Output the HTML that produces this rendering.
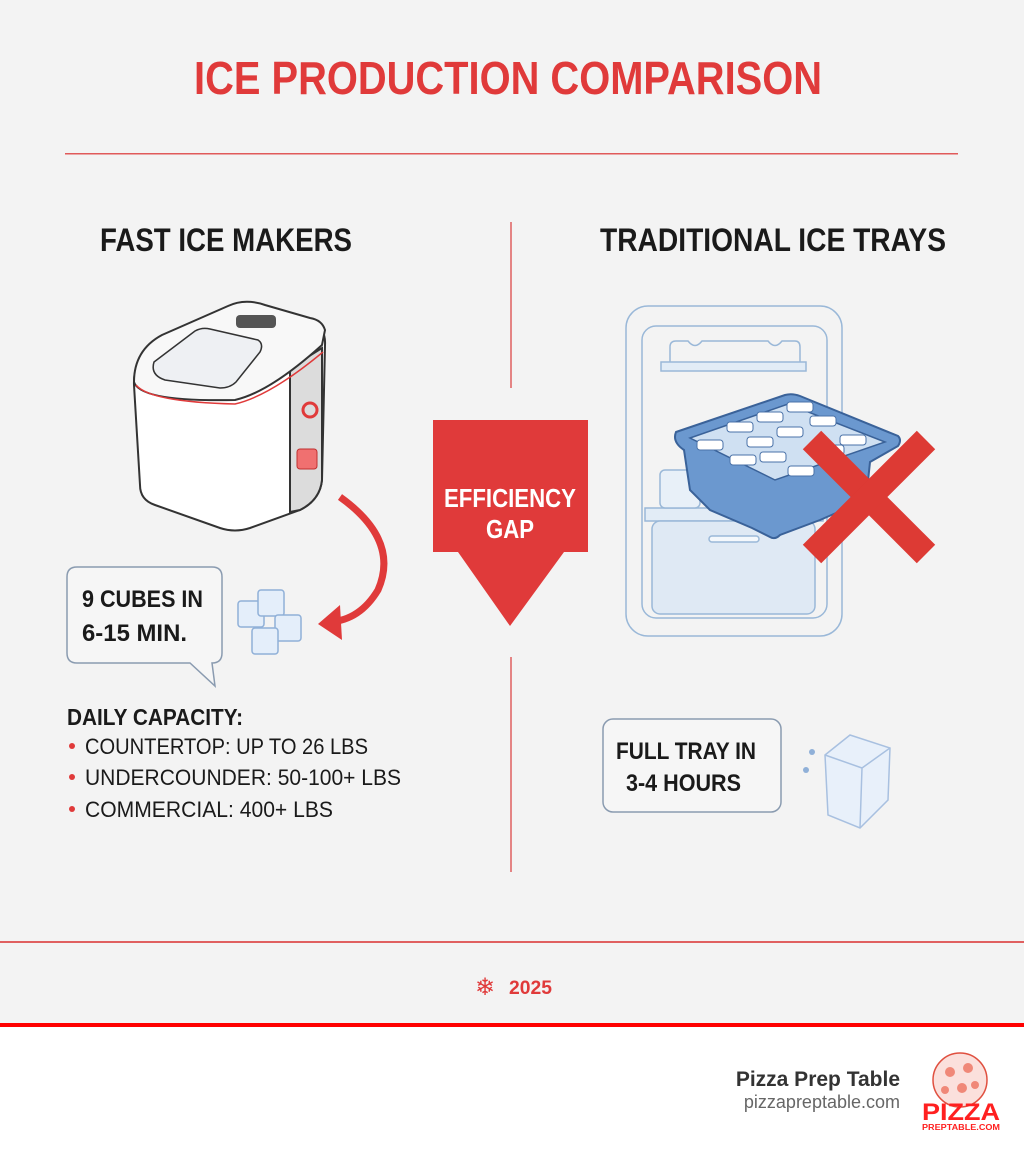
<!DOCTYPE html>
<html><head><meta charset="utf-8"><style>
html,body{margin:0;padding:0}
body{width:1024px;height:1154px;background:#f3f3f3;position:relative;overflow:hidden;font-family:"Liberation Sans",sans-serif}
svg{position:absolute;left:0;top:0}
.t{font-family:"Liberation Sans",sans-serif;font-weight:bold}
</style></head><body>
<svg width="1024" height="1154" viewBox="0 0 1024 1154">
<rect x="0" y="1026" width="1024" height="128" fill="#fff"/>
<rect x="0" y="1023" width="1024" height="4" fill="#f00"/>
<rect x="0" y="941" width="1024" height="2" fill="#e06060"/>
<text x="508" y="94" text-anchor="middle" class="t" font-size="46" fill="#e03a3a" textLength="628" lengthAdjust="spacingAndGlyphs">ICE PRODUCTION COMPARISON</text>
<rect x="65" y="153" width="893" height="1.5" fill="#e05a5a"/>
<text x="226" y="251" text-anchor="middle" class="t" font-size="32" fill="#1a1a1a" textLength="252" lengthAdjust="spacingAndGlyphs">FAST ICE MAKERS</text>
<text x="773" y="251" text-anchor="middle" class="t" font-size="32" fill="#1a1a1a" textLength="346" lengthAdjust="spacingAndGlyphs">TRADITIONAL ICE TRAYS</text>
<line x1="511" y1="222" x2="511" y2="388" stroke="#e06060" stroke-width="1.5"/>
<line x1="511" y1="657" x2="511" y2="872" stroke="#e06060" stroke-width="1.5"/>
<!-- arrow -->
<path d="M433 420 H588 V552 H564 L510 626 L458 552 H433 Z" fill="#e03a3a"/>
<text x="510" y="507" text-anchor="middle" class="t" font-size="26" fill="#fff" textLength="132" lengthAdjust="spacingAndGlyphs">EFFICIENCY</text>
<text x="510" y="538" text-anchor="middle" class="t" font-size="26" fill="#fff" textLength="48" lengthAdjust="spacingAndGlyphs">GAP</text>
<!-- ice maker -->
<g stroke="#333" stroke-width="2" fill="#fff">
<path d="M134 385 Q133 355 160 342 L225 312 Q245 302 265 308 L312 322 Q326 328 325 345 L322 480 Q320 500 300 510 L250 528 Q235 533 220 528 L155 505 Q140 500 140 485 Z"/>
<path d="M290 368 L322 348 L322 480 Q320 500 300 510 L290 512 Z" fill="#dcdcdc"/>
<path d="M134 382 Q140 402 235 400 Q270 392 322 345 L325 330 Q322 320 310 318 L265 305 Q245 298 228 306 L162 335 Q134 350 134 382 Z" fill="#f8f8f8"/>
<path d="M154 362 L195 331 Q202 327 210 329 L258 340 Q264 344 260 352 L236 382 Q230 388 220 388 L165 380 Q150 375 154 362Z" fill="#eef0f3" stroke-width="1.5"/>
<rect x="236" y="315" width="40" height="13" rx="4" fill="#555" stroke="none"/>
</g>
<path d="M136 385 Q150 402 235 404 Q270 396 323 352" fill="none" stroke="#e03a3a" stroke-width="1.5"/>
<circle cx="310" cy="410" r="7" fill="none" stroke="#e03a3a" stroke-width="3"/>
<rect x="297" y="449" width="20" height="20" rx="3" fill="#f07070" stroke="#c03030"/>
<!-- curved arrow -->
<path d="M340 497 Q400 540 378 590 Q360 620 330 622" fill="none" stroke="#e03a3a" stroke-width="7"/>
<path d="M318 624 L340 605 L342 640 Z" fill="#e03a3a"/>
<!-- bubble -->
<path d="M77 567 H212 Q222 567 222 577 V653 Q222 663 212 663 L215 686 L190 663 H77 Q67 663 67 653 V577 Q67 567 77 567 Z" fill="#f6f6f6" stroke="#8a9bb0" stroke-width="1.5"/>
<text x="82" y="607" class="t" font-size="24" fill="#1a1a1a" textLength="121" lengthAdjust="spacingAndGlyphs">9 CUBES IN</text>
<text x="82" y="641" class="t" font-size="24" fill="#1a1a1a" textLength="105" lengthAdjust="spacingAndGlyphs">6-15 MIN.</text>
<g fill="#e4eefa" stroke="#90b0d8" stroke-width="1.5">
<rect x="238" y="601" width="26" height="26" rx="3"/><rect x="258" y="590" width="26" height="26" rx="3"/>
<rect x="275" y="615" width="26" height="26" rx="3"/><rect x="252" y="628" width="26" height="26" rx="3"/>
</g>
<text x="67" y="725" class="t" font-size="23" fill="#1a1a1a" textLength="176" lengthAdjust="spacingAndGlyphs">DAILY CAPACITY:</text>
<g font-size="22" fill="#1a1a1a">
<circle cx="72" cy="746" r="3" fill="#e03a3a"/><text x="85" y="754" textLength="283" lengthAdjust="spacingAndGlyphs">COUNTERTOP: UP TO 26 LBS</text>
<circle cx="72" cy="777" r="3" fill="#e03a3a"/><text x="85" y="785" textLength="316" lengthAdjust="spacingAndGlyphs">UNDERCOUNDER: 50-100+ LBS</text>
<circle cx="72" cy="809" r="3" fill="#e03a3a"/><text x="85" y="817" textLength="248" lengthAdjust="spacingAndGlyphs">COMMERCIAL: 400+ LBS</text>
</g>
<!-- fridge -->
<g stroke="#9ab8d8" stroke-width="1.5" fill="none">
<rect x="626" y="306" width="216" height="330" rx="22"/>
<rect x="642" y="326" width="185" height="292" rx="14"/>
<path d="M670 367 V347 Q670 341 676 341 H688 Q695 350 702 341 H768 Q775 350 782 341 H795 Q800 341 800 347 V367"/>
<rect x="661" y="362" width="145" height="9" fill="#e2ecf6"/>
<rect x="645" y="508" width="178" height="13" fill="#e2ecf6"/>
<rect x="652" y="521" width="163" height="93" rx="8" fill="#dfe9f4"/>
<rect x="709" y="536" width="50" height="6" rx="3" fill="#f4f8fc"/>
<rect x="660" y="470" width="40" height="38" rx="5" fill="#e8f0f8"/>
</g>
<!-- tray -->
<path d="M676 432 L785 395 Q792 393 800 396 L898 436 Q902 440 898 446 L870 462 L866 500 L820 520 L780 535 Q775 540 770 537 L752 528 L710 510 L690 490 L684 450 Q672 442 676 432 Z" fill="#6b98cf" stroke="#3a6299" stroke-width="2"/>
<path d="M690 438 L788 404 L885 442 L775 480 Z" fill="#cfe0f2" stroke="#3a6299" stroke-width="1.5"/>
<g fill="#fff" stroke="#4a72a8" stroke-width="1">
<rect x="727" y="422" width="26" height="10" rx="3"/><rect x="757" y="412" width="26" height="10" rx="3"/><rect x="787" y="402" width="26" height="10" rx="3"/>
<rect x="747" y="437" width="26" height="10" rx="3"/><rect x="777" y="427" width="26" height="10" rx="3"/><rect x="810" y="416" width="26" height="10" rx="3"/>
<rect x="730" y="455" width="26" height="10" rx="3"/><rect x="760" y="452" width="26" height="10" rx="3"/><rect x="840" y="435" width="26" height="10" rx="3"/>
<rect x="697" y="440" width="26" height="10" rx="3"/><rect x="788" y="466" width="26" height="10" rx="3"/><rect x="818" y="445" width="26" height="10" rx="3"/>
</g>
<g stroke="#dd3a34" stroke-width="26">
<line x1="812" y1="440" x2="926" y2="554"/><line x1="926" y1="440" x2="812" y2="554"/>
</g>
<rect x="603" y="719" width="178" height="93" rx="10" fill="#f6f6f6" stroke="#8a9bb0" stroke-width="1.5"/>
<text x="616" y="759" class="t" font-size="24" fill="#1a1a1a" textLength="140" lengthAdjust="spacingAndGlyphs">FULL TRAY IN</text>
<text x="626" y="791" class="t" font-size="24" fill="#1a1a1a" textLength="115" lengthAdjust="spacingAndGlyphs">3-4 HOURS</text>
<g fill="#e8f0fa" stroke="#a8c0e0" stroke-width="1.5">
<path d="M825 755 L850 735 L890 748 L888 800 L860 828 L828 815 Z"/>
<path d="M825 755 L862 768 L890 748 M862 768 L860 828" fill="none"/>
</g>
<circle cx="812" cy="752" r="3" fill="#90b0d8"/><circle cx="806" cy="770" r="3" fill="#90b0d8"/>
<!-- footer -->
<text x="485" y="995" text-anchor="middle" font-size="24" fill="#e03a3a">❄</text>
<text x="509" y="994" class="t" font-size="19" fill="#e03a3a" textLength="43" lengthAdjust="spacingAndGlyphs">2025</text>
<text x="900" y="1086" text-anchor="end" font-weight="bold" font-size="21" fill="#333">Pizza Prep Table</text>
<text x="900" y="1108" text-anchor="end" font-size="18" fill="#666">pizzapreptable.com</text>
<circle cx="960" cy="1080" r="27" fill="#fbe0dc" stroke="#e05040" stroke-width="1.5"/>
<g fill="#f08878"><circle cx="950" cy="1072" r="5"/><circle cx="968" cy="1068" r="5"/><circle cx="962" cy="1088" r="5"/><circle cx="945" cy="1090" r="4"/><circle cx="975" cy="1085" r="4"/></g>
<text x="961" y="1120" text-anchor="middle" font-weight="bold" font-size="24" fill="#ff2020" textLength="78" lengthAdjust="spacingAndGlyphs">PIZZA</text>
<text x="961" y="1130" text-anchor="middle" font-weight="bold" font-size="8" fill="#ff2020" textLength="78" lengthAdjust="spacingAndGlyphs">PREPTABLE.COM</text>
</svg>
</body></html>
